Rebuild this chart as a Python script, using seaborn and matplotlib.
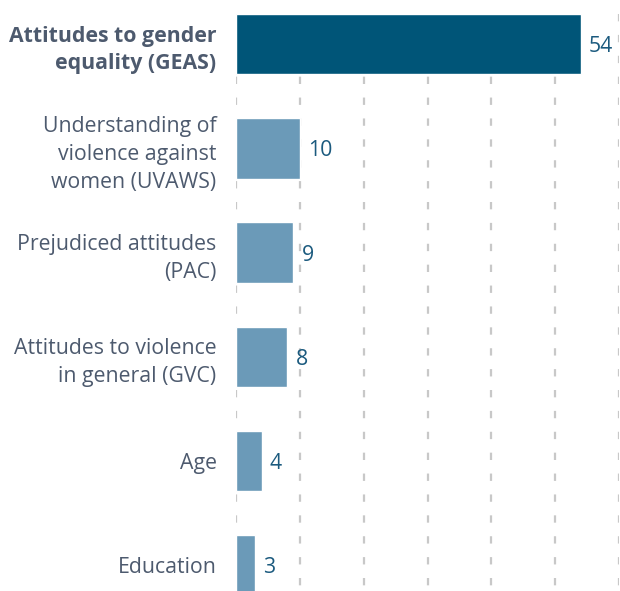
import matplotlib
matplotlib.use("Agg")
import matplotlib.pyplot as plt
import seaborn as sns
import pandas as pd

categories = [
    "Attitudes to gender\nequality (GEAS)",
    "Understanding of\nviolence against\nwomen (UVAWS)",
    "Prejudiced attitudes\n(PAC)",
    "Attitudes to violence\nin general (GVC)",
    "Age",
    "Education",
]
values = [54, 10, 9, 8, 4, 3]
grid_ticks = [0, 10, 20, 30, 40, 50, 60]

bar_colors = ["#005578"] + ["#6b9ab8"] * 5
label_color = "#4d5a6e"
value_color = "#1b5a7e"

sns.set_theme(style="white")
plt.rcParams["font.family"] = ["Open Sans", "DejaVu Sans"]

df = pd.DataFrame({"category": categories, "value": values})

fig = plt.figure(figsize=(6.2, 5.91), dpi=100)
ax = fig.add_axes([236 / 620, 0.0, 383 / 620, 1 - 14 / 591])

sns.barplot(data=df, x="value", y="category", hue="category",
            palette=bar_colors, legend=False, orient="h",
            width=0.58, ax=ax, zorder=3, saturation=1)

for t in grid_ticks:
    ax.axvline(t, ymin=1, ymax=0, color="#c8c8c8", linewidth=1.6,
               linestyle=(0, (3.3, 6.1)), zorder=1)

ax.set_xlim(0, 60)
ax.set_ylim(5.245, -0.29)
ax.set_xlabel("")
ax.set_ylabel("")
ax.set_xticks([])
for s in ax.spines.values():
    s.set_visible(False)

ax.tick_params(axis="y", length=0, pad=14)
ax.set_yticks(range(len(categories)))
ax.set_yticklabels(categories, fontsize=15.3, color=label_color,
                   linespacing=1.42)
ax.get_yticklabels()[0].set_fontweight("bold")

for c in ax.containers:
    texts = ax.bar_label(c, labels=[f"{int(v)}" for v in c.datavalues],
                         padding=6, fontsize=15.3, color=value_color)
    for t in texts:
        t.set_va("center_baseline")

fig.savefig("out.png", dpi=100)
